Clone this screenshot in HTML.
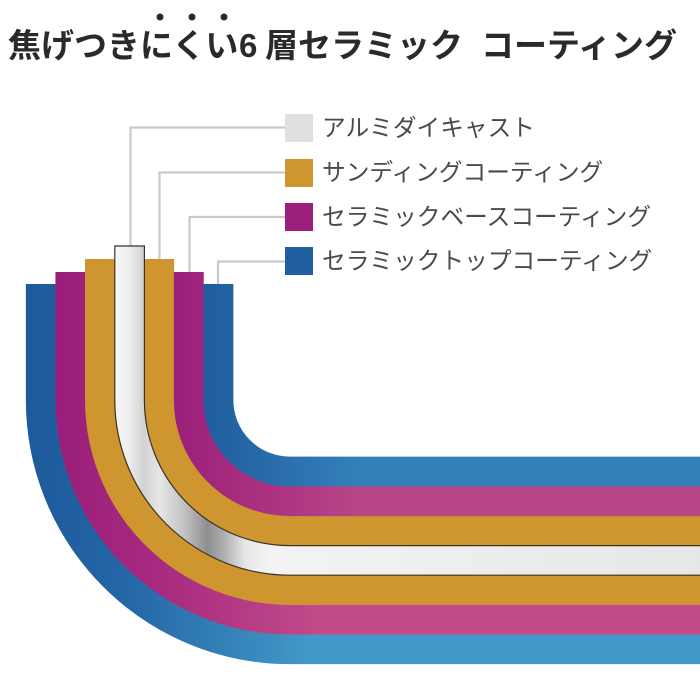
<!DOCTYPE html>
<html>
<head>
<meta charset="utf-8">
<style>
html,body{margin:0;padding:0;background:#fff;}
svg{display:block;}
</style>
</head>
<body>
<svg width="700" height="700" viewBox="0 0 700 700" xmlns="http://www.w3.org/2000/svg">
<defs>
  <linearGradient id="gBlueO" gradientUnits="userSpaceOnUse" x1="26" y1="0" x2="310" y2="0">
    <stop offset="0" stop-color="#1d5a9b"/>
    <stop offset="0.35" stop-color="#2466a6"/>
    <stop offset="1" stop-color="#4298c8"/>
  </linearGradient>
  <linearGradient id="gMagO" gradientUnits="userSpaceOnUse" x1="55" y1="0" x2="320" y2="0">
    <stop offset="0" stop-color="#9a1e7a"/>
    <stop offset="0.4" stop-color="#a82a80"/>
    <stop offset="1" stop-color="#c24b89"/>
  </linearGradient>
  <linearGradient id="gMagI" gradientUnits="userSpaceOnUse" x1="174" y1="0" x2="360" y2="0">
    <stop offset="0" stop-color="#9c1f7b"/>
    <stop offset="1" stop-color="#b84587"/>
  </linearGradient>
  <linearGradient id="gBlueI" gradientUnits="userSpaceOnUse" x1="204" y1="0" x2="360" y2="0">
    <stop offset="0" stop-color="#1f5d9e"/>
    <stop offset="1" stop-color="#3580b9"/>
  </linearGradient>
  <linearGradient id="gAlu" gradientUnits="userSpaceOnUse" x1="114" y1="0" x2="700" y2="0">
    <stop offset="0" stop-color="#f7f7f7"/>
    <stop offset="0.024" stop-color="#efefef"/>
    <stop offset="0.051" stop-color="#d2d2d2"/>
    <stop offset="0.078" stop-color="#e6e6e6"/>
    <stop offset="0.121" stop-color="#c0c0c0"/>
    <stop offset="0.160" stop-color="#8e8e8e"/>
    <stop offset="0.189" stop-color="#b0b0b0"/>
    <stop offset="0.224" stop-color="#e6e6e6"/>
    <stop offset="0.266" stop-color="#f3f3f3"/>
    <stop offset="1" stop-color="#e7e7e7"/>
  </linearGradient>
</defs>

<!-- Title -->
<g fill="#2a2a2a">
  <circle cx="160" cy="17" r="3.5"/>
  <circle cx="192" cy="17" r="3.5"/>
  <circle cx="224" cy="17" r="3.5"/>
</g>
<text y="57" font-family="'Liberation Sans','Noto Sans CJK JP',sans-serif" font-size="33" font-weight="700" fill="#2a2a2a"><tspan x="8">焦げつきにくい</tspan><tspan x="239">6</tspan><tspan x="265">層セラミック</tspan><tspan x="481">コーティング</tspan></text>

<!-- Leader lines -->
<g stroke="#c9c9c9" stroke-width="2.2" fill="none">
  <polyline points="130.5,246 130.5,127.5 285,127.5"/>
  <polyline points="159.5,259 159.5,172.5 285,172.5"/>
  <polyline points="189.5,272 189.5,217 285,217"/>
  <polyline points="218,284 218,261.5 285,261.5"/>
</g>

<!-- Legend -->
<rect x="285" y="114" width="28" height="28" fill="#dfe0df"/>
<rect x="285" y="159" width="28" height="28" fill="#cf952f"/>
<rect x="285" y="203" width="28" height="28" fill="#9c1f7b"/>
<rect x="285" y="247" width="28" height="28" fill="#2160a0"/>
<g font-family="'Liberation Sans','Noto Sans CJK JP',sans-serif" font-size="23.7" fill="#4a4a4a">
  <text x="322" y="136">アルミダイキャスト</text>
  <text x="322" y="180.5">サンディングコーティング</text>
  <text x="322" y="225">セラミックベースコーティング</text>
  <text x="322" y="269">セラミックトップコーティング</text>
</g>

<!-- Layers -->
<g fill="none" stroke-width="29.9" stroke-linecap="butt">
  <path d="M40.8,284 V400 A249.2,249.2 0 0 0 290,649.2 H700" stroke="url(#gBlueO)"/>
  <path d="M70.4,272 V400 A219.6,219.6 0 0 0 290,619.6 H700" stroke="url(#gMagO)"/>
  <path d="M100,259 V400 A190,190 0 0 0 290,590 H700" stroke="#cf952f"/>
  <path d="M159.2,259 V400 A130.8,130.8 0 0 0 290,530.8 H700" stroke="#cf952f"/>
  <path d="M188.8,272 V400 A101.2,101.2 0 0 0 290,501.2 H700" stroke="url(#gMagI)"/>
  <path d="M218.4,284 V400 A71.6,71.6 0 0 0 290,471.6 H700" stroke="url(#gBlueI)"/>
</g>
<path d="M114.8,246 L114.8,400 A175.2,175.2 0 0 0 290,575.2 L701,575.2 L701,545.6 L290,545.6 A145.6,145.6 0 0 1 144.4,400 L144.4,246 Z" fill="url(#gAlu)" stroke="#3a3228" stroke-width="1.2"/>
</svg>
</body>
</html>
